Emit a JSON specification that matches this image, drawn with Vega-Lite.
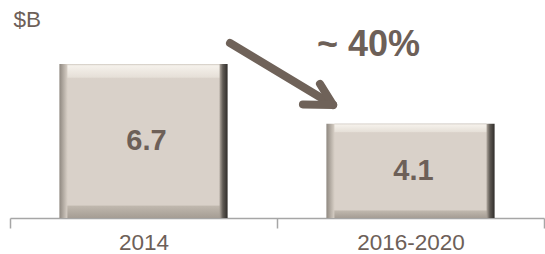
{
  "$schema": "https://vega.github.io/schema/vega-lite/v6.json",
  "width": 534,
  "height": 218,
  "autosize": {"type": "none"},
  "padding": {"left": 10, "top": 0, "right": 1, "bottom": 36},
  "background": "white",
  "config": {"view": {"stroke": null}, "font": "Liberation Sans"},
  "datasets": {
    "bars": [
      {"period": "2014", "value": 6.7},
      {"period": "2016-2020", "value": 4.1}
    ],
    "arrow": [
      {"seg": "shaft", "x": 0.824, "y": 7.61, "x2": 1.21, "y2": 4.915},
      {"seg": "barb1", "x": 1.21, "y": 4.915, "x2": 1.161, "y2": 5.83},
      {"seg": "barb2", "x": 1.21, "y": 4.915, "x2": 1.097, "y2": 4.94}
    ],
    "note": [{"x": 1.343, "y": 7.52, "label": "~ 40%"}]
  },
  "resolve": {"scale": {"x": "independent"}, "axis": {"x": "independent"}},
  "layer": [
    {
      "data": {"name": "bars"},
      "mark": {
        "type": "bar",
        "width": {"band": 0.63},
        "fill": {
          "gradient": "linear", "x1": 0, "x2": 1, "y1": 0, "y2": 0,
          "stops": [
            {"offset": 0, "color": "#8f8880"},
            {"offset": 0.045, "color": "#d3cbc2"},
            {"offset": 0.955, "color": "#a49c93"},
            {"offset": 0.972, "color": "#5f5a54"},
            {"offset": 1, "color": "#302d2a"}
          ]
        }
      },
      "encoding": {
        "x": {
          "field": "period", "type": "nominal", "sort": null,
          "scale": {"paddingInner": 0, "paddingOuter": 0},
          "axis": {
            "title": null, "labelAngle": 0, "tickBand": "extent",
            "domainColor": "#a6a6a6", "tickColor": "#a6a6a6", "tickSize": 10,
            "domainWidth": 1.5, "tickWidth": 1.5,
            "labelFontSize": 22.5, "labelColor": "#6d6058", "labelPadding": 3
          }
        },
        "y": {
          "field": "value", "type": "quantitative",
          "scale": {"domain": [0, 9.48], "nice": false, "zero": true},
          "axis": {
            "title": "$B", "titleAngle": 0, "titleX": 3, "titleY": 19,
            "titleAlign": "left", "titleBaseline": "middle",
            "titleFontSize": 22.5, "titleFontWeight": "normal", "titleColor": "#6d6058",
            "labels": false, "ticks": false, "domain": false, "grid": false
          }
        }
      }
    },
    {
      "data": {"name": "bars"},
      "mark": {
        "type": "bar",
        "width": {"band": 0.57},
        "fill": {
          "gradient": "linear", "x1": 0, "x2": 0, "y1": 0, "y2": 1,
          "stops": [
            {"offset": 0, "color": "#cdc6be"},
            {"offset": 0.012, "color": "#f5f1eb"},
            {"offset": 0.085, "color": "#e6e0d8"},
            {"offset": 0.095, "color": "#d9d1c9"},
            {"offset": 0.915, "color": "#d9d1c9"},
            {"offset": 0.925, "color": "#bfb7ad"},
            {"offset": 1, "color": "#a59d94"}
          ]
        }
      },
      "encoding": {
        "x": {"field": "period", "type": "nominal", "sort": null, "scale": {"paddingInner": 0, "paddingOuter": 0}, "axis": null},
        "y": {"field": "value", "type": "quantitative"}
      }
    },
    {
      "data": {"name": "bars"},
      "transform": [{"calculate": "datum.value / 2", "as": "mid"}],
      "mark": {"type": "text", "fontSize": 29, "fontWeight": "bold", "color": "#6d6058", "dx": 3, "baseline": "middle"},
      "encoding": {
        "x": {"field": "period", "type": "nominal", "sort": null, "scale": {"paddingInner": 0, "paddingOuter": 0}, "axis": null},
        "y": {"field": "mid", "type": "quantitative"},
        "text": {"field": "value", "type": "quantitative", "format": ".1f"}
      }
    },
    {
      "data": {"name": "arrow"},
      "mark": {"type": "rule", "strokeWidth": 8, "strokeCap": "round", "color": "#6f6259"},
      "encoding": {
        "x": {"field": "x", "type": "quantitative", "scale": {"domain": [0, 2], "nice": false, "zero": true}, "axis": null},
        "x2": {"field": "x2"},
        "y": {"field": "y", "type": "quantitative"},
        "y2": {"field": "y2"}
      }
    },
    {
      "data": {"name": "note"},
      "mark": {"type": "text", "fontSize": 36, "fontWeight": "bold", "color": "#6d6058", "baseline": "middle", "align": "center"},
      "encoding": {
        "x": {"field": "x", "type": "quantitative", "scale": {"domain": [0, 2], "nice": false, "zero": true}, "axis": null},
        "y": {"field": "y", "type": "quantitative"},
        "text": {"field": "label", "type": "nominal"}
      }
    }
  ]
}
